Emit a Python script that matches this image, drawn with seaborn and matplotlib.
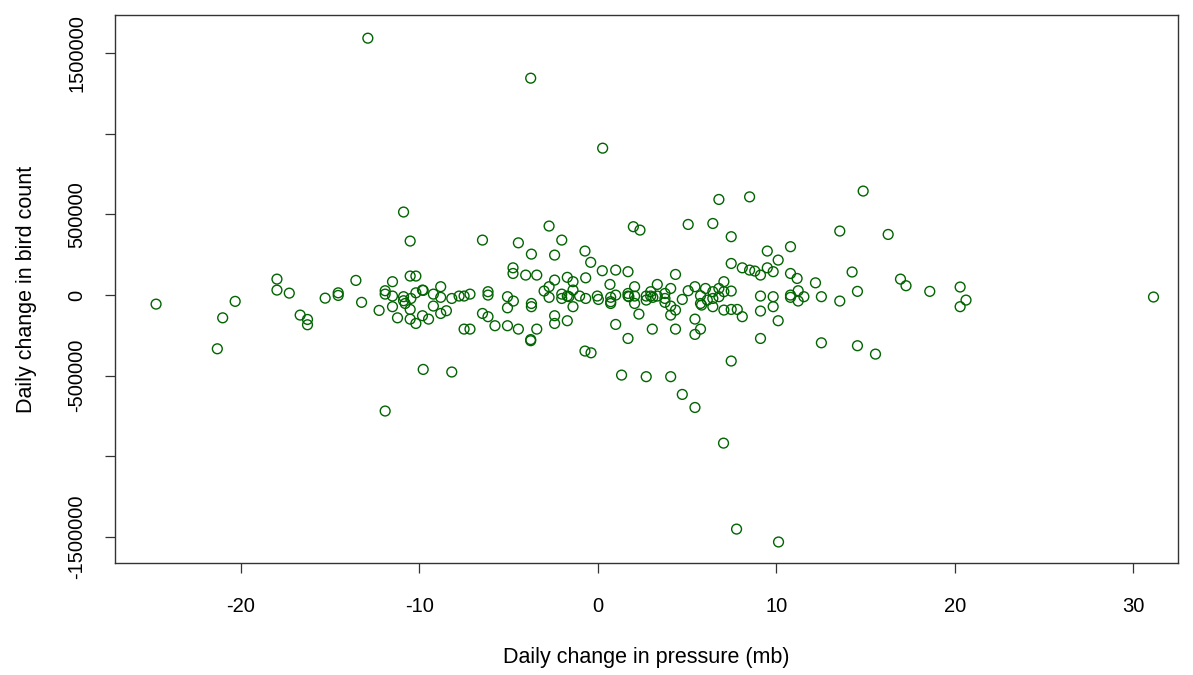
import matplotlib
matplotlib.use("Agg")
import matplotlib.pyplot as plt
import seaborn as sns
import pandas as pd

# daily change in pressure (mb) and in bird count
pressure = [
    -24.73, -20.30, -21.00, -21.30, -17.96, -17.96, -17.27, -16.66, -16.25, -16.25,
    -15.26, -14.53, -14.53, -13.54, -13.22,
    -10.87, -10.50, -11.90, -9.77, -8.17, -10.50, -10.18, -11.49, -11.90, -11.90,
    -11.49, -10.87, -10.87, -10.46, -10.18, -9.81, -9.77, -12.24, -11.49, -11.21,
    -10.78, -10.50, -10.50, -10.18, -9.81, -9.47, -9.20, -8.79, -8.79, -9.20,
    -8.79, -8.47, -8.17, -7.76, -7.48, -7.15, -7.48, -7.15, -6.45, -6.45,
    -6.14, -6.14, -6.14, -5.75, -5.05, -5.05, -4.72, -5.05, -4.44, -4.44,
    -4.74, -4.74, -4.03, -3.41, -3.71, -3.71, -3.71, -3.75, -3.75, -3.41,
    -2.72, -2.41, -2.01, -2.41, -2.72, -3.00, -2.72, -2.41, -2.41, -1.70,
    -1.38, -1.70, -2.01, -2.01, -1.70, -1.61, -1.38, -1.01, -0.67, -1.38,
    -0.67, -0.71, -0.39, 0.26, -0.02, 0.04, -0.71, -0.37,
    1.01, 1.70, 0.69, 0.73, 0.73, 0.73, 1.01, 1.70, 1.70, 1.75,
    2.07, 2.07, 2.07, 2.00, 2.37, 2.31, 1.01, 1.70, 1.34, 2.72,
    2.97, 3.09, 3.34, 2.97, 2.72, 3.34, 3.77, 3.77, 3.77, 4.09,
    4.09, 4.09, 4.36, 4.36, 3.06, 4.36, 2.72, 4.09, 4.74, 5.45,
    4.74, 5.07, 5.07, 5.45, 5.45, 5.45, 5.76, 5.76, 5.76, 5.82,
    6.04, 6.45, 6.45, 6.45, 6.45, 6.14, 6.79, 6.79, 6.79, 7.07,
    7.07, 7.07, 7.48, 7.48, 7.48, 7.48, 7.82, 8.10, 7.48, 8.10,
    8.51, 8.80, 9.12, 8.51, 9.50, 9.50, 10.11, 9.83, 9.12, 9.12,
    9.83, 9.83, 9.12, 10.11, 10.80, 10.80, 10.80, 10.80, 11.23, 11.23,
    11.55, 11.17, 12.20, 12.53, 12.53, 13.56, 13.56,
    14.87, 16.27, 14.25, 14.55, 16.96, 17.27, 18.60, 20.30, 20.63, 20.30,
    14.55, 15.56, 31.13,
    -12.87, -3.75, 0.28, 7.05, 7.78, 10.13,
]
birds = [
    -56000, -39000, -141000, -333000, 99000, 31000, 12000, -124000, -151000, -184000,
    -19000, 14000, -2000, 91000, -45000,
    515000, 335000, -719000, -461000, -477000, 118000, 118000, 83000, 27000, 6000,
    -6000, -10000, -35000, -21000, 14000, 31000, 29000, -95000, -72000, -141000,
    -52000, -89000, -149000, -176000, -128000, -149000, 6000, 52000, -14000, -68000,
    -114000, -97000, -21000, -6000, -6000, 6000, -211000, -211000, 341000, -114000,
    21000, 0, -134000, -190000, -10000, -79000, -37000, -190000, -211000, 324000,
    169000, 134000, 124000, 124000, 254000, -52000, -72000, -283000, -276000, -211000,
    428000, 248000, 341000, 93000, 52000, 25000, -14000, -128000, -176000, 110000,
    83000, -159000, 6000, -21000, -6000, -10000, 31000, -6000, -21000, -72000,
    107000, 273000, 203000, 151000, -6000, -27000, -347000, -358000,
    155000, 145000, 66000, -14000, -41000, -52000, 0, 10000, -6000, -10000,
    52000, -6000, -52000, 424000, 403000, -118000, -182000, -269000, -496000, -6000,
    -6000, -14000, -6000, 21000, -31000, 66000, 10000, -21000, -45000, 41000,
    -68000, -124000, 128000, -93000, -211000, -211000, -506000, -506000, -616000, -697000,
    -27000, 27000, 438000, 52000, -149000, -244000, -211000, -4000, -52000, -62000,
    41000, 444000, 21000, -21000, -72000, -31000, 593000, 41000, -10000, 83000,
    21000, -93000, 362000, 196000, 25000, -89000, -89000, -134000, -409000, 169000,
    155000, 149000, 124000, 609000, 273000, 169000, 217000, 145000, -6000, -99000,
    -10000, -72000, -269000, -159000, 300000, 134000, 0, -14000, 27000, -37000,
    -10000, 103000, 76000, -10000, -296000, 397000, -37000,
    645000, 376000, 143000, 23000, 99000, 58000, 23000, 50000, -31000, -72000,
    -314000, -366000, -12000,
    1593000, 1345000, 911000, -918000, -1451000, -1531000,
]

y_ticks = [-1500000, -1000000, -500000, 0, 500000, 1000000, 1500000]
y_tick_labels = ["-1500000", "", "-500000", "0", "500000", "", "1500000"]
x_ticks = [-20, -10, 0, 10, 20, 30]

df = pd.DataFrame({"pressure": pressure, "birds": birds})

sns.set_theme(style="ticks")
plt.rcParams["font.family"] = ["Liberation Sans", "DejaVu Sans"]

fig = plt.figure(figsize=(11.93, 6.75), dpi=100)
ax = fig.add_axes([0.0964, 0.166, 0.891, 0.8116])

sns.scatterplot(data=df, x="pressure", y="birds", ax=ax, marker="o",
                facecolor="none", edgecolor="#006400", linewidth=1.0, s=50)

ax.set_xlim(-27.03, 32.5)
ax.set_ylim(-1661000, 1736000)

ax.set_xticks(x_ticks)
ax.set_xticklabels([str(t) for t in x_ticks])
ax.set_yticks(y_ticks)
ax.set_yticklabels(y_tick_labels, rotation=90, va="center")

ax.tick_params(axis="both", direction="out", length=7.5, width=0.9,
               color="#333333", labelsize=14.5, labelcolor="black")
ax.tick_params(axis="x", pad=17)
ax.tick_params(axis="y", pad=13)

for sp in ax.spines.values():
    sp.set_visible(True)
    sp.set_color("#333333")
    sp.set_linewidth(1.0)

ax.set_xlabel("Daily change in pressure (mb)", fontsize=15.5, color="black", labelpad=22)
ax.set_ylabel("Daily change in bird count", fontsize=15.5, color="black", labelpad=22)

fig.savefig("out.png", dpi=100, facecolor="white")
